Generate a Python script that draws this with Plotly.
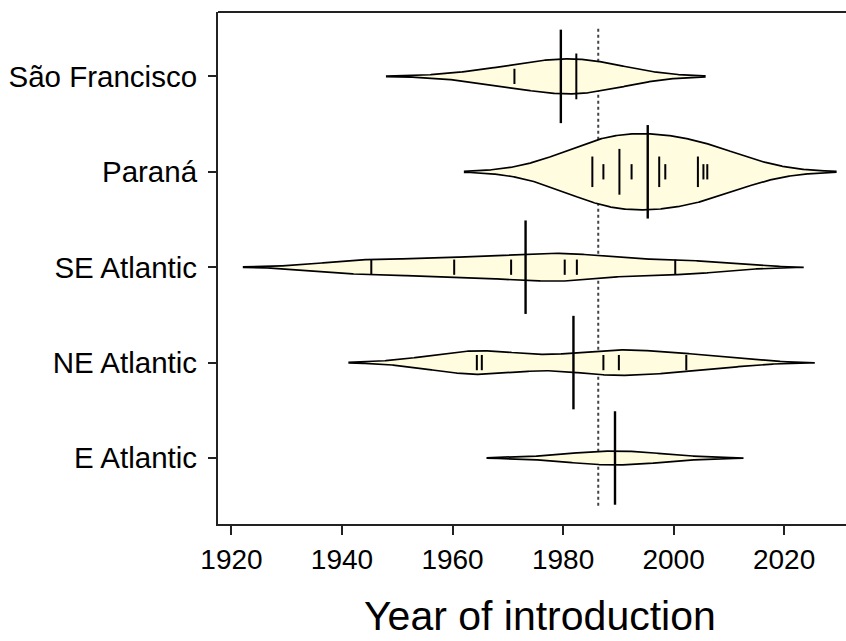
import numpy as np
import plotly.graph_objects as go

# Year of introduction per basin (one entry per introduced species)
groups = ["E Atlantic", "NE Atlantic", "SE Atlantic", "Paraná", "São Francisco"]
e_atlantic = [1989.4]
ne_atlantic = [1964.4, 1965.3, 1987.3, 1990.1, 2002.3]
se_atlantic = [1945.3, 1960.3, 1970.6, 1980.3, 1982.5, 2000.3]
parana = [1985.3, 1985.3, 1987.3, 1990.2, 1990.2, 1990.2, 1992.4,
          1997.4, 1997.4, 1998.5, 2004.4, 2004.4, 2005.4, 2006.1]
sao_francisco = [1971.2, 1982.4, 1982.4, 1982.4]
series = [e_atlantic, ne_atlantic, se_atlantic, parana, sao_francisco]

x_ticks = [1920, 1940, 1960, 1980, 2000, 2020]

# bean settings
BW = 7.75          # common kernel bandwidth (years)
CUT = 3            # density drawn out to CUT * BW beyond the data
MAXHALF = 0.4      # half of the maximum bean width
GAMMA = 0.76       # width compression for sparse groups
LL = 0.08          # half length of a single bean line
AVG_HALF = 0.49    # half length of the bean average line
FILL = "#FFFCE0"


def kde(obs, grid):
    obs = np.asarray(obs, dtype=float)
    z = (grid[:, None] - obs[None, :]) / BW
    return np.exp(-0.5 * z ** 2).sum(axis=1) / (BW * np.sqrt(2 * np.pi))


grids, dens = [], []
for obs in series:
    g = np.linspace(min(obs) - CUT * BW, max(obs) + CUT * BW, 512)
    grids.append(g)
    dens.append(kde(obs, g))
dmax = max(d.max() for d in dens)

fig = go.Figure()

# overall mean (drawn beneath the beans)
all_obs = np.concatenate([np.asarray(s, float) for s in series])
overall = all_obs.mean()
fig.add_trace(go.Scatter(x=[overall, overall], y=[0.5, len(groups) + 0.5],
                         mode="lines", line=dict(color="#444444", width=2, dash="dot"),
                         hoverinfo="skip", showlegend=False))

for i, (obs, g, d) in enumerate(zip(series, grids, dens)):
    pos = i + 1
    half = MAXHALF * (d / dmax) ** GAMMA
    xs = np.concatenate([g, g[::-1]])
    ys = np.concatenate([pos + half, (pos - half)[::-1]])
    fig.add_trace(go.Scatter(x=xs, y=ys, mode="lines", fill="toself",
                             fillcolor=FILL, line=dict(color="black", width=1.7),
                             hoverinfo="skip", showlegend=False))
    # bean lines: one per distinct value, longer when values repeat
    vals, counts = np.unique(np.asarray(obs, float), return_counts=True)
    lx, ly = [], []
    for v, c in zip(vals, counts):
        lx += [v, v, None]
        ly += [pos - LL * c, pos + LL * c, None]
    fig.add_trace(go.Scatter(x=lx, y=ly, mode="lines",
                             line=dict(color="black", width=2),
                             hoverinfo="skip", showlegend=False))
    # bean average
    m = float(np.mean(obs))
    fig.add_trace(go.Scatter(x=[m, m], y=[pos - AVG_HALF, pos + AVG_HALF], mode="lines",
                             line=dict(color="black", width=2.4),
                             hoverinfo="skip", showlegend=False))

FONT = "Liberation Sans, Arial, sans-serif"

fig.update_layout(
    width=846, height=641,
    margin=dict(l=218, r=0, t=12, b=117),
    plot_bgcolor="white", paper_bgcolor="white",
    font=dict(family=FONT, color="black"),
    xaxis=dict(range=[1917.56, 2031.2], tickvals=x_ticks, ticktext=[str(t) for t in x_ticks],
               showgrid=False, zeroline=False, showline=True, linecolor="#222222", linewidth=2,
               ticks="outside", ticklen=9, tickwidth=2, tickcolor="#222222",
               tickfont=dict(size=28, family=FONT, color="black")),
    yaxis=dict(range=[0.308, 5.675], tickvals=list(range(1, len(groups) + 1)), ticktext=groups,
               showgrid=False, zeroline=False, showline=True, linecolor="#222222", linewidth=2,
               ticks="outside", ticklen=8, tickwidth=2, tickcolor="#222222",
               ticklabelstandoff=5,
               tickfont=dict(size=29.5, family=FONT, color="black")),
    shapes=[dict(type="line", xref="paper", yref="paper", x0=0, x1=1, y0=1, y1=1,
                 line=dict(color="#222222", width=2))],
    annotations=[dict(text="Year of introduction", xref="paper", yref="paper",
                      x=0.5127, y=-0.18, xanchor="center", yanchor="middle",
                      showarrow=False, font=dict(size=41, family=FONT, color="black"))],
)

fig.write_html("out.html")
